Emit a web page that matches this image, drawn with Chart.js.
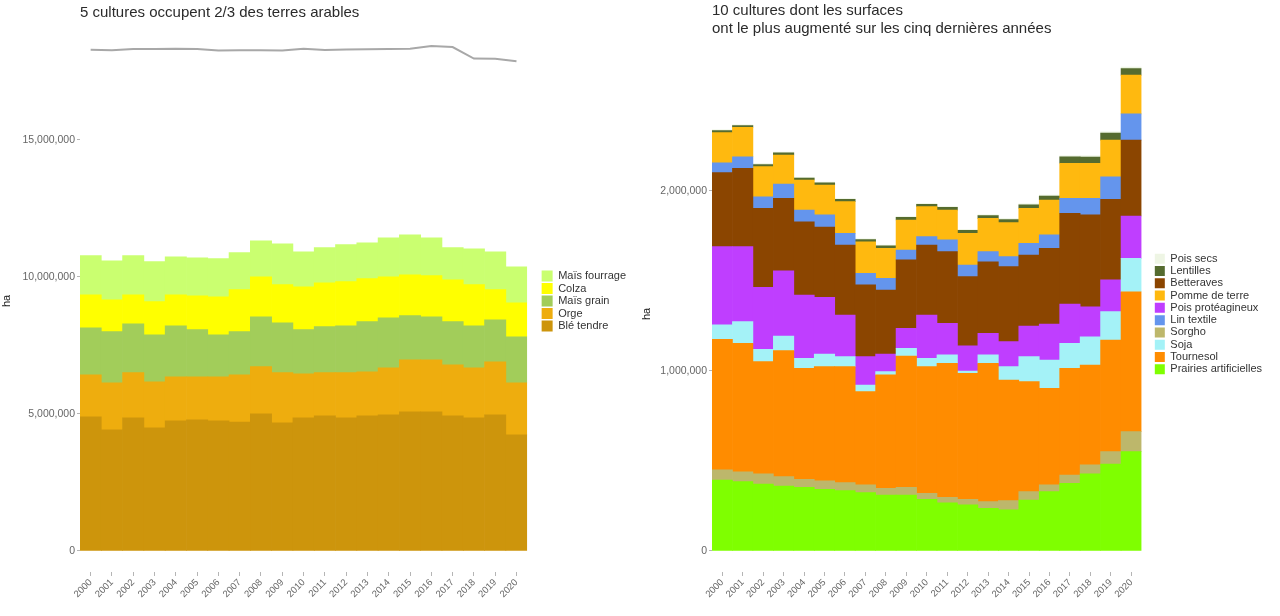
<!DOCTYPE html>
<html lang="fr">
<head>
<meta charset="utf-8">
<title>Surfaces des cultures</title>
<script src="https://cdn.jsdelivr.net/npm/chart.js@4.4.1/dist/chart.umd.min.js"></script>
<style>
  html, body { margin: 0; padding: 0; background: #fff; }
  #wrap { position: relative; width: 1280px; height: 616px; }
  .panel { position: absolute; top: 0; width: 640px; height: 616px; }
</style>
</head>
<body>
<div id="wrap">
  <div class="panel" style="left:0"><canvas id="chartGauche" width="640" height="616"></canvas></div>
  <div class="panel" style="left:640px"><canvas id="chartDroite" width="640" height="616"></canvas></div>
</div>
<script>
// annees communes aux deux graphiques
var annees = ['2000', '2001', '2002', '2003', '2004', '2005', '2006', '2007', '2008', '2009', '2010',
  '2011', '2012', '2013', '2014', '2015', '2016', '2017', '2018', '2019', '2020'];

// graphique 1 : les 5 grandes cultures (ha)
var bleTendre = [4890000, 4420000, 4850000, 4490000, 4740000, 4780000, 4740000, 4700000, 5000000, 4670000, 4850000,
  4930000, 4850000, 4930000, 4960000, 5070000, 5070000, 4930000, 4850000, 4960000, 4230000];
var orge = [1530000, 1710000, 1650000, 1680000, 1610000, 1570000, 1610000, 1720000, 1720000, 1830000, 1610000,
  1570000, 1650000, 1600000, 1720000, 1900000, 1900000, 1860000, 1830000, 1940000, 1900000];
var maisGrain = [1720000, 1870000, 1780000, 1710000, 1860000, 1720000, 1530000, 1580000, 1820000, 1820000, 1610000,
  1680000, 1710000, 1830000, 1820000, 1610000, 1570000, 1570000, 1530000, 1530000, 1680000];
var colza = [1200000, 1160000, 1060000, 1210000, 1130000, 1230000, 1390000, 1530000, 1460000, 1390000, 1560000,
  1600000, 1610000, 1570000, 1500000, 1490000, 1500000, 1530000, 1500000, 1100000, 1240000];
var maisFourrage = [1430000, 1420000, 1430000, 1460000, 1390000, 1390000, 1390000, 1350000, 1310000, 1490000, 1280000,
  1280000, 1350000, 1310000, 1420000, 1460000, 1380000, 1170000, 1310000, 1380000, 1310000];
var terresArables = [18280000, 18260000, 18310000, 18310000, 18320000, 18310000, 18250000, 18260000, 18260000, 18250000, 18320000,
  18270000, 18290000, 18300000, 18310000, 18320000, 18420000, 18380000, 17960000, 17950000, 17860000];
var ticksGauche = [0, 5000000, 10000000, 15000000];

// graphique 2 : les 10 cultures en hausse (ha)
var prairiesArtificielles = [394000, 385000, 372000, 361000, 354000, 343000, 335000, 324000, 311000, 311000, 287000,
  268000, 256000, 237000, 228000, 283000, 330000, 376000, 428000, 483000, 552000];
var sorgho = [56000, 55000, 56000, 52000, 44000, 47000, 45000, 43000, 37000, 43000, 33000,
  30000, 31000, 37000, 52000, 47000, 37000, 46000, 50000, 69000, 111000];
var tournesol = [726000, 714000, 624000, 700000, 617000, 634000, 644000, 518000, 630000, 729000, 704000,
  745000, 700000, 769000, 670000, 611000, 537000, 593000, 555000, 620000, 777000];
var soja = [80000, 120000, 68000, 81000, 55000, 70000, 56000, 37000, 18000, 43000, 46000,
  46000, 13000, 46000, 74000, 139000, 157000, 139000, 157000, 158000, 186000];
var poisProteagineux = [435000, 417000, 345000, 363000, 352000, 315000, 231000, 158000, 98000, 111000, 241000,
  176000, 139000, 120000, 139000, 170000, 200000, 218000, 167000, 176000, 235000];
var betteraves = [411000, 435000, 439000, 402000, 407000, 391000, 389000, 398000, 356000, 380000, 389000,
  398000, 385000, 398000, 417000, 394000, 421000, 504000, 510000, 448000, 422000];
var linTextile = [55000, 64000, 64000, 80000, 65000, 67000, 65000, 65000, 65000, 55000, 46000,
  65000, 65000, 56000, 55000, 65000, 74000, 83000, 92000, 125000, 145000];
var pommeDeTerre = [167000, 164000, 167000, 161000, 167000, 166000, 176000, 175000, 167000, 167000, 167000,
  166000, 176000, 185000, 189000, 195000, 194000, 195000, 195000, 204000, 216000];
var lentilles = [11000, 10000, 12000, 12000, 11000, 12000, 13000, 12000, 13000, 14000, 13000,
  15000, 16000, 15000, 17000, 19000, 22000, 36000, 35000, 39000, 36000];
var poisSecs = [5000, 4000, 5000, 4000, 4000, 5000, 4000, 4000, 5000, 5000, 4000,
  5000, 4000, 5000, 5000, 6000, 5000, 6000, 6000, 7000, 9000];
var ticksDroite = [0, 1000000, 2000000];
var ordreLegende = ['Pois secs', 'Lentilles', 'Betteraves', 'Pomme de terre', 'Pois protéagineux',
  'Lin textile', 'Sorgho', 'Soja', 'Tournesol', 'Prairies artificielles'];

Chart.defaults.font.family = '"Liberation Sans", Arial, sans-serif';
Chart.defaults.animation = false;

function formatHa(v) {
  return Number(v).toLocaleString('en-US');
}

function barre(nom, valeurs, couleur) {
  return {
    label: nom,
    data: valeurs,
    backgroundColor: couleur,
    borderWidth: 0,
    categoryPercentage: 1,
    barPercentage: 1
  };
}

function axeX() {
  return {
    stacked: true,
    offset: true,
    grid: { offset: false, drawOnChartArea: false, drawTicks: true, tickLength: 4, color: '#b5b5b5' },
    border: { display: false },
    ticks: { color: '#666', font: { size: 9.5 }, minRotation: 45, maxRotation: 45, autoSkip: false, padding: 1 },
    afterFit: function (s) { s.height = 44; }
  };
}

function axeY(min, max, pas, largeur, valeursTicks) {
  return {
    stacked: true,
    min: min,
    max: max,
    afterBuildTicks: function (s) { s.ticks = valeursTicks.map(function (v) { return { value: v }; }); },
    ticks: { stepSize: pas, includeBounds: false, color: '#666', font: { size: 10.5 }, padding: 2, callback: formatHa },
    grid: { drawOnChartArea: false, tickLength: 3, color: '#b5b5b5' },
    border: { display: false },
    title: { display: true, text: 'ha', color: '#222', font: { size: 11 }, padding: 0 },
    afterFit: function (s) { s.width = largeur; }
  };
}

// axe invisible : simple marge entre la zone du graphique et la legende
function axeVide(largeur) {
  return {
    type: 'linear',
    position: 'right',
    display: false,
    afterFit: function (s) { s.width = largeur; }
  };
}

// ---- graphique de gauche
new Chart(document.getElementById('chartGauche'), {
  type: 'bar',
  data: {
    labels: annees,
    datasets: [
      {
        type: 'line',
        label: 'Terres arables',
        data: terresArables,
        borderColor: '#a8a8a8',
        borderWidth: 2,
        pointRadius: 0,
        fill: false,
        stack: 'total'
      },
      barre('Blé tendre', bleTendre, '#CD950C'),
      barre('Orge', orge, '#EEAD0E'),
      barre('Maïs grain', maisGrain, '#A2CD5A'),
      barre('Colza', colza, '#FFFF00'),
      barre('Maïs fourrage', maisFourrage, '#CAFF70')
    ]
  },
  options: {
    responsive: false,
    layout: { padding: { right: 4 } },
    plugins: {
      tooltip: { enabled: false },
      title: {
        display: true,
        text: '5 cultures occupent 2/3 des terres arables',
        align: 'start',
        fullSize: false,
        color: '#2b2b2b',
        font: { size: 15, weight: 'normal' },
        padding: { top: 4, bottom: 8 }
      },
      legend: {
        position: 'right',
        fullSize: false,
        reverse: true,
        labels: {
          boxWidth: 11,
          boxHeight: 11,
          padding: 1.5,
          color: '#333',
          font: { size: 11 },
          filter: function (item) { return item.text !== 'Terres arables'; }
        }
      }
    },
    scales: {
      x: axeX(),
      y: axeY(-770000, 19000000, 5000000, 80, ticksGauche),
      vide: axeVide(13)
    }
  }
});

// ---- graphique de droite
new Chart(document.getElementById('chartDroite'), {
  type: 'bar',
  data: {
    labels: annees,
    datasets: [
      barre('Prairies artificielles', prairiesArtificielles, '#7FFF00'),
      barre('Sorgho', sorgho, '#BDB76B'),
      barre('Tournesol', tournesol, '#FF8C00'),
      barre('Soja', soja, '#A4F2F7'),
      barre('Pois protéagineux', poisProteagineux, '#BF3EFF'),
      barre('Betteraves', betteraves, '#8B4500'),
      barre('Lin textile', linTextile, '#6495ED'),
      barre('Pomme de terre', pommeDeTerre, '#FFB90F'),
      barre('Lentilles', lentilles, '#556B2F'),
      barre('Pois secs', poisSecs, '#EEF5E4')
    ]
  },
  options: {
    responsive: false,
    layout: { padding: { right: 8 } },
    plugins: {
      tooltip: { enabled: false },
      title: {
        display: true,
        text: ['10 cultures dont les surfaces', 'ont le plus augmenté sur les cinq dernières années'],
        align: 'start',
        fullSize: false,
        color: '#2b2b2b',
        font: { size: 15, weight: 'normal', lineHeight: 1.25 },
        padding: { top: 1, bottom: 17.5 }
      },
      legend: {
        position: 'right',
        fullSize: false,
        labels: {
          boxWidth: 10,
          boxHeight: 10,
          padding: 1.3,
          color: '#333',
          font: { size: 11 },
          sort: function (a, b) { return ordreLegende.indexOf(a.text) - ordreLegende.indexOf(b.text); }
        }
      }
    },
    scales: {
      x: axeX(),
      y: axeY(-117000, 2750000, 1000000, 72, ticksDroite),
      vide: axeVide(12)
    }
  }
});
</script>
</body>
</html>
